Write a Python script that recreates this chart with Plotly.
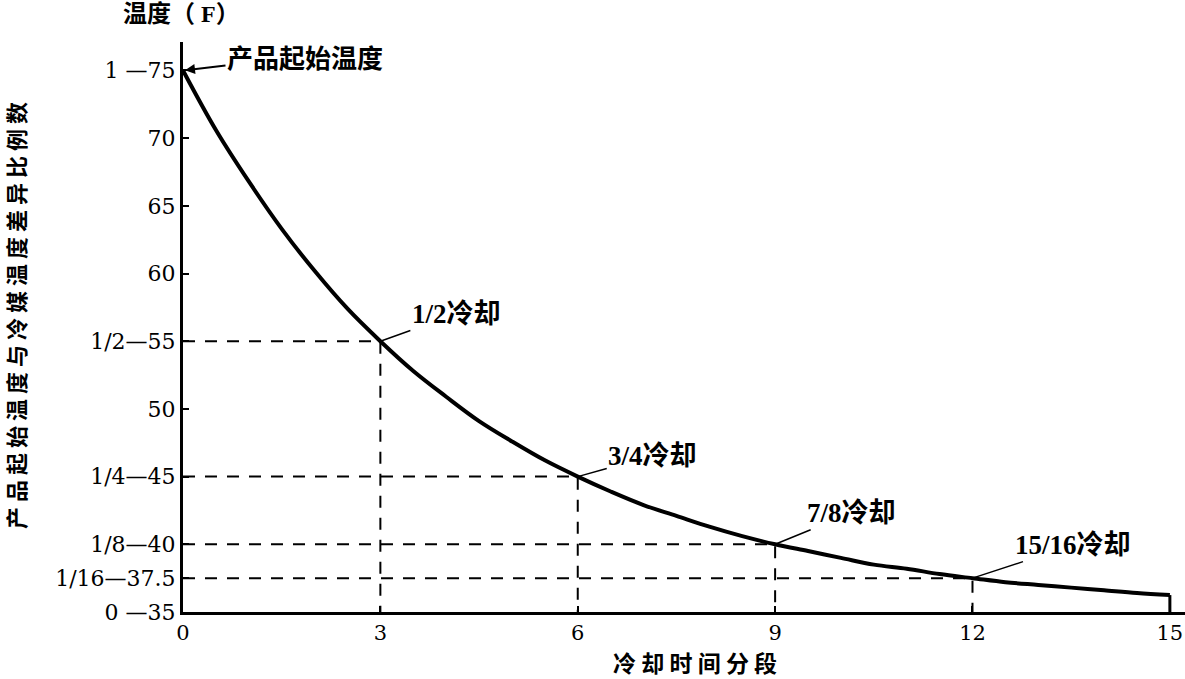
import plotly.graph_objects as go

# Cooling curve (time segments vs temperature, °F)
time_pts = [0, 0.5, 1, 1.5, 2, 2.5, 3, 3.5, 4, 4.5, 5, 5.5, 6, 6.5, 7, 7.5, 8,
            8.5, 9, 9.5, 10, 10.5, 11, 11.5, 12, 12.5, 13, 13.5, 14, 14.5, 15]
temp_pts = [75, 70.6, 66.8, 63.3, 60.2, 57.4, 55, 52.8, 50.9, 49.1, 47.6, 46.2,
            45, 43.9, 42.9, 42.1, 41.3, 40.6, 40, 39.5, 39.0, 38.5, 38.2, 37.8,
            37.5, 37.2, 37.0, 36.8, 36.6, 36.4, 36.25]

# Marked cooling stages
stage_x = [3, 6, 9, 12]
stage_y = [55, 45, 40, 37.5]
stage_labels = ["1/2冷却", "3/4冷却", "7/8冷却", "15/16冷却"]

y_tickvals = [75, 70, 65, 60, 55, 50, 45, 40, 37.5, 35]
y_ticktext = ["1 —75", "70", "65", "60", "1/2—55", "50", "1/4—45", "1/8—40",
              "1/16—37.5", "0 —35"]
x_tickvals = [0, 3, 6, 9, 12, 15]

Y_MIN = 35
TICKFONT = "DejaVu Serif, Liberation Serif, serif"
SERIF = "Liberation Serif, Noto Sans CJK SC, serif"
CJK = "Noto Sans CJK SC, sans-serif"

W, H = 1185, 679
L, R, T, B = 183, 0, 42, 67
PW, PH = W - L - R, H - T - B


def px(xp):
    return (xp - L) / PW


def py(yp):
    return (H - B - yp) / PH


fig = go.Figure()

# dashed guide lines
for sx, sy in zip(stage_x, stage_y):
    fig.add_trace(go.Scatter(
        x=[0, sx, sx], y=[sy, sy, Y_MIN], mode="lines",
        line=dict(color="black", width=2, dash="12px,10px"),
        hoverinfo="skip", showlegend=False))

# main curve
fig.add_trace(go.Scatter(
    x=time_pts, y=temp_pts, mode="lines", line_shape="spline",
    line=dict(color="black", width=4), showlegend=False))

# end drop line at last point
fig.add_trace(go.Scatter(
    x=[time_pts[-1], time_pts[-1]], y=[temp_pts[-1], Y_MIN], mode="lines",
    line=dict(color="black", width=3), showlegend=False))

fig.update_layout(
    width=W, height=H,
    margin=dict(l=L, r=R, t=T, b=B),
    paper_bgcolor="white", plot_bgcolor="white",
    font=dict(family=SERIF, size=20, color="black"),
    xaxis=dict(range=[0, 15.23], tickvals=x_tickvals,
               ticktext=[str(v) for v in x_tickvals],
               showgrid=False, zeroline=False, showline=True,
               linecolor="black", linewidth=3, ticks="inside", ticklen=6,
               tickwidth=2, tickcolor="black",
               tickfont=dict(family=TICKFONT, size=21)),
    yaxis=dict(range=[Y_MIN, 77.1], tickvals=y_tickvals, ticktext=y_ticktext,
               showgrid=False, zeroline=False, showline=True,
               linecolor="black", linewidth=3, ticks="inside", ticklen=6,
               tickwidth=2, tickcolor="black",
               tickfont=dict(family=TICKFONT, size=22)),
)

# start label with arrow
fig.add_annotation(x=0, y=75, xref="x", yref="y", text="<b>产品起始温度</b>",
                   showarrow=True, arrowhead=2, arrowsize=1, arrowwidth=2,
                   arrowcolor="black", ax=122, ay=-14,
                   font=dict(family=CJK, size=26, color="black"),
                   standoff=2)

# stage labels with leader lines
offsets = [(76, -27), (75, -21), (76, -31), (101, -33)]
for sx, sy, lab, (ox, oy) in zip(stage_x, stage_y, stage_labels, offsets):
    fig.add_annotation(x=sx, y=sy, xref="x", yref="y", text="<b>" + lab + "</b>",
                       showarrow=True, arrowhead=0, arrowwidth=1.5,
                       arrowcolor="black", ax=ox, ay=oy,
                       font=dict(family=SERIF, size=27, color="black"))

# axis titles
fig.add_annotation(x=px(181), y=py(14), xref="paper", yref="paper",
                   text="<b>温度（ F）</b>", showarrow=False,
                   xanchor="center", yanchor="middle",
                   font=dict(family=SERIF, size=24))
fig.add_annotation(x=px(695), y=py(662), xref="paper", yref="paper",
                   text="<b>冷 却 时 间 分 段</b>", showarrow=False,
                   xanchor="center", yanchor="middle",
                   font=dict(family=CJK, size=23))
fig.add_annotation(x=px(15), y=py(316), xref="paper", yref="paper",
                   text="<b>产 品 起 始 温 度 与 冷 媒 温 度 差 异 比 例 数</b>",
                   textangle=-90, showarrow=False,
                   xanchor="center", yanchor="middle",
                   font=dict(family=CJK, size=22))

fig.write_html("out.html", config={"displayModeBar": False},
               post_script="document.body.style.margin='0px';")
